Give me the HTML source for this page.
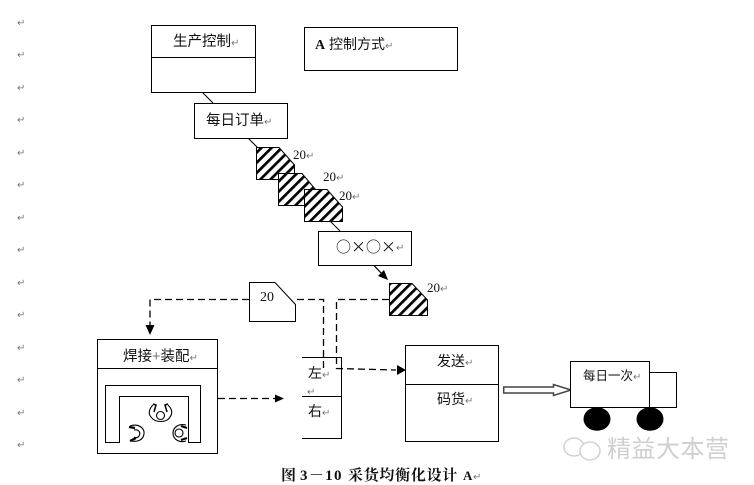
<!DOCTYPE html>
<html><head><meta charset="utf-8"><style>
html,body{margin:0;padding:0;background:#fff}
svg{display:block}
text{font-family:"Liberation Sans","Noto Sans CJK SC",sans-serif;fill:#111}
.r{fill:#777;font-size:10px}
.s{font-family:"Liberation Serif","Noto Serif CJK SC",serif}
.c{font-family:"Noto Sans CJK SC",sans-serif}
.b{fill:#fff;stroke:#000;stroke-width:1}
.d{fill:none;stroke:#000;stroke-width:1.3;stroke-dasharray:7 4}
</style></head><body>
<svg width="754" height="485" viewBox="0 0 754 485" xmlns="http://www.w3.org/2000/svg">
<defs>
<pattern id="h" width="7.200" height="7.200" patternUnits="userSpaceOnUse" patternTransform="rotate(-45)">
<rect width="7.200" height="7.200" fill="#fff"/><rect width="7.200" height="2.700" fill="#000"/>
</pattern>
</defs>

<g class="r">
<text class="r" x="17" y="26">↵</text><text class="r" x="17" y="58">↵</text><text class="r" x="17" y="91">↵</text><text class="r" x="17" y="123">↵</text><text class="r" x="17" y="156">↵</text><text class="r" x="17" y="188">↵</text><text class="r" x="17" y="221">↵</text><text class="r" x="17" y="253">↵</text><text class="r" x="17" y="286">↵</text><text class="r" x="17" y="318">↵</text><text class="r" x="17" y="351">↵</text><text class="r" x="17" y="383">↵</text><text class="r" x="17" y="416">↵</text><text class="r" x="17" y="448">↵</text>
</g>

<!-- connectors -->
<path d="M202 92L213 103M248 138L257 147M330 221L340 231" stroke="#000" fill="none"/>
<path d="M374 265.500L383 275" stroke="#000" stroke-width="1.200" fill="none"/>
<path d="M388 280L378 276L384 270Z" fill="#000"/>

<!-- production control -->
<rect class="b" x="151.500" y="25.500" width="104" height="67"/>
<path d="M151.500 57.500H255.500" stroke="#000"/>
<text x="173" y="46" font-size="14.500">生产控制<tspan class="r" font-size="9">↵</tspan></text>

<rect class="b" x="304.500" y="27.500" width="153" height="43"/>
<text x="315" y="49" font-size="14"><tspan class="s" font-weight="bold">A</tspan> 控制方式<tspan class="r" font-size="9">↵</tspan></text>

<rect class="b" x="194.500" y="103.500" width="93" height="35"/>
<text x="206" y="125" font-size="14.500">每日订单<tspan class="r" font-size="9">↵</tspan></text>

<!-- hatched stacks -->
<path d="M256.500 147.500H279L294.500 165V179.500H256.500Z" fill="url(#h)" stroke="#000"/>
<path d="M278.500 173.500H302L316 190V205.500H278.500Z" fill="url(#h)" stroke="#000"/>
<path d="M304.500 189.500H327L342.500 207V221.500H304.500Z" fill="url(#h)" stroke="#000"/>
<text class="s" x="293" y="159" font-size="13">20<tspan class="r" font-size="9">↵</tspan></text>
<text class="s" x="323" y="181" font-size="13">20<tspan class="r" font-size="9">↵</tspan></text>
<text class="s" x="339" y="200" font-size="13">20<tspan class="r" font-size="9">↵</tspan></text>

<rect class="b" x="318.500" y="231.500" width="93" height="34"/>
<text class="c" x="336" y="252" font-size="15">○×○×</text>
<text class="r" x="396" y="251" font-size="9">↵</text>

<path d="M389.500 283.500H412L427.500 300V315.500H389.500Z" fill="url(#h)" stroke="#000"/>
<text class="s" x="427" y="292" font-size="13">20<tspan class="r" font-size="9">↵</tspan></text>

<!-- dashed flows -->
<path class="d" d="M249 299.500H150V325"/>
<path d="M145.500 325H154.500L150 335Z" fill="#000"/>
<path class="d" d="M297 299.500H323.500V369"/>
<path class="d" d="M389 299.500H336.500V368.500L396 370"/>
<path d="M397 365L406 370L397 375Z" fill="#000"/>
<path class="d" d="M218 398.500H275"/>
<path d="M275 394.500L284 398.500L275 402.500Z" fill="#000"/>

<!-- document -->
<path class="b" d="M249.500 282.500H275L295.500 304.500V321.500H249.500Z"/>
<text class="s" x="260" y="301" font-size="14">20</text>

<!-- left/right -->
<path d="M302 357.500H341.500V438.500H302M302 396.500H341.500" fill="none" stroke="#000"/>
<text x="308" y="378" font-size="14">左<tspan class="r" font-size="9">↵</tspan></text>
<text class="r" x="307" y="395" font-size="9">↵</text>
<text x="308" y="416" font-size="14">右<tspan class="r" font-size="9">↵</tspan></text>

<!-- shipping -->
<rect class="b" x="405.500" y="345.500" width="93" height="96"/>
<path d="M405.500 384.500H498.500" stroke="#000"/>
<text x="437" y="366" font-size="14">发送<tspan class="r" font-size="9">↵</tspan></text>
<text x="437" y="404" font-size="14">码货<tspan class="r" font-size="9">↵</tspan></text>

<!-- weld -->
<rect class="b" x="97.500" y="339.500" width="120" height="114"/>
<path d="M97.500 368.500H217.500" stroke="#000"/>
<text x="123" y="361" font-size="14.500">焊接<tspan fill="#777">+</tspan>装配<tspan class="r" font-size="9">↵</tspan></text>
<path d="M119.500 442.500H105.500V385.500H200.500V442.500H188.500V396.500H119.500Z" fill="#fff" stroke="#000"/>
<g fill="none" stroke="#000" stroke-width="1.100">
<circle cx="160.500" cy="415.500" r="4"/>
<path d="M153 405C149 409 148 414 151 417C155 423 167 423 170 417C173 413 172 409 168 405"/>
<path d="M153 404L156 405L154 412M168 404L165 405L167 412" stroke-width="1.500"/>
<path d="M130 426C138 423 145 428 144 434C143 441 136 442 131 441"/>
<path d="M134 430C139 429 141 433 139 436C138 438 135 438 134 437"/>
<path d="M129 427L135 428M130 441L136 438" stroke-width="2.200"/>
<path d="M186 425C178 423 173 428 173 433C173 440 180 443 186 441"/>
<circle cx="179" cy="433" r="4"/>
<path d="M181 426L187 428M181 440L187 438" stroke-width="2.200"/>
</g>

<!-- block arrow -->
<path d="M503.700 387H553.500V384.500L571 390L553.500 395.500V393H503.700Z" fill="#fff" stroke="#444" stroke-width="1.500"/>

<!-- truck -->
<rect class="b" x="649.500" y="372.500" width="27" height="35"/>
<rect class="b" x="570.500" y="361.500" width="79" height="46"/>
<text x="583" y="380" font-size="12.500">每日一次<tspan class="r" font-size="8">↵</tspan></text>
<ellipse cx="597" cy="419" rx="13.500" ry="11.800" fill="#000"/>
<ellipse cx="650" cy="419" rx="13.500" ry="11.800" fill="#000"/>

<!-- watermark -->
<g fill="#fff" stroke="#d2d2d2" stroke-width="1.500">
<ellipse cx="574" cy="447" rx="10" ry="9"/>
<ellipse cx="590" cy="451" rx="10" ry="9"/>
</g>
<text x="607" y="457" font-size="24" style="fill:#cfcfcf" textLength="122">精益大本营</text>

<!-- caption -->
<g font-weight="bold">
<text class="s" x="281" y="480" font-size="15">图</text>
<text class="s" x="300" y="480" font-size="15" textLength="43" style="letter-spacing:1.500px">3－10</text>
<text class="s" x="348" y="480" font-size="15" textLength="110" style="letter-spacing:.7px">采货均衡化设计</text>
<text class="s" x="463" y="480" font-size="13">A</text>
</g>
<text class="r" x="473" y="480" font-size="9">↵</text>
</svg>
</body></html>
